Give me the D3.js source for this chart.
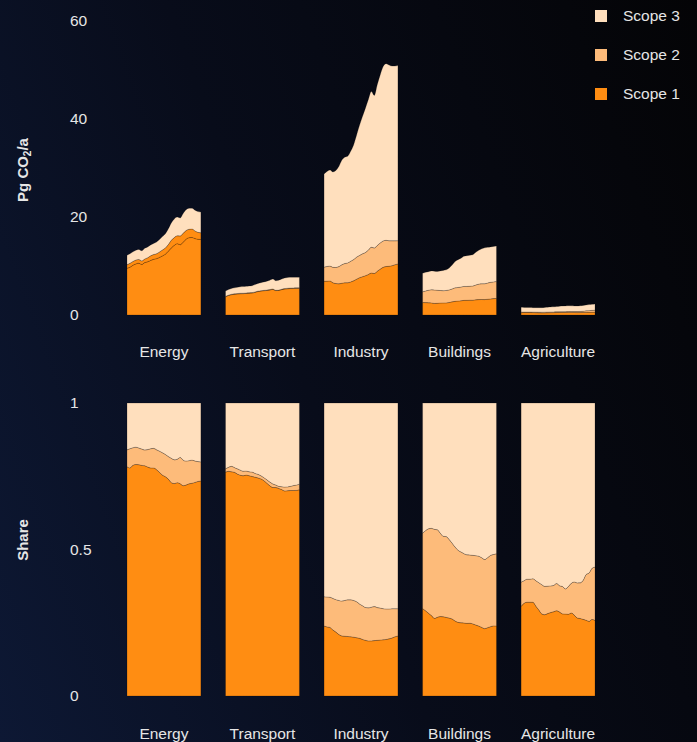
<!DOCTYPE html>
<html>
<head>
<meta charset="utf-8">
<script src="https://cdn.jsdelivr.net/npm/d3@7"></script>
<style>
  html, body { margin: 0; padding: 0; }
  body {
    width: 697px; height: 742px; overflow: hidden;
    background: linear-gradient(70deg, #0d1834 0%, #080c1a 45%, #040406 100%);
    font-family: "Liberation Sans", Arial, sans-serif;
  }
  text { fill: #e6e6e6; }
</style>
</head>
<body>
<svg id="chart" width="697" height="742"></svg>
<script>
// sectors + years
const sectors = ["Energy", "Transport", "Industry", "Buildings", "Agriculture"];
const years = [1995, 1996, 1997, 1998, 1999, 2000, 2001, 2002, 2003, 2004, 2005, 2006, 2007,
  2008, 2009, 2010, 2011, 2012, 2013, 2014, 2015, 2016, 2017, 2018, 2019, 2020];
const scopes = ["Scope 1", "Scope 2", "Scope 3"];
const topTicks = [0, 20, 40, 60];
const shareTicks = [0, 0.5, 1];

// Pg CO2 per year
const energyS1 = [9.55, 9.73, 10.15, 10.43, 10.57, 10.31, 10.69, 10.86, 11.13, 11.36, 11.50, 11.75, 12.06,
  12.42, 13.02, 13.69, 14.21, 14.56, 14.34, 14.86, 15.48, 15.78, 15.83, 15.60, 15.45, 15.41];
const energyS2 = [0.70, 0.82, 0.77, 0.78, 0.76, 0.73, 0.73, 0.83, 0.94, 0.98, 1.01, 1.12, 1.22,
  1.26, 1.36, 1.56, 1.59, 1.60, 1.78, 1.80, 1.76, 1.72, 1.72, 1.56, 1.43, 1.37];
const energyS3 = [1.95, 1.95, 1.97, 1.99, 2.06, 2.06, 2.18, 2.21, 2.23, 2.26, 2.38, 2.53, 2.72,
  2.92, 3.22, 3.55, 3.80, 3.84, 3.68, 4.04, 4.26, 4.29, 4.25, 4.24, 4.22, 4.22];

const transportS1 = [3.74, 3.98, 4.14, 4.23, 4.28, 4.34, 4.36, 4.41, 4.45, 4.48, 4.63, 4.80, 4.89,
  4.96, 5.01, 5.10, 5.23, 4.98, 5.03, 5.18, 5.29, 5.36, 5.40, 5.40, 5.41, 5.41];
const transportS2 = [0.06, 0.07, 0.10, 0.09, 0.10, 0.10, 0.09, 0.08, 0.08, 0.09, 0.08, 0.08, 0.07,
  0.07, 0.08, 0.09, 0.09, 0.06, 0.05, 0.07, 0.10, 0.10, 0.11, 0.13, 0.14, 0.15];
const transportS3 = [1.10, 1.14, 1.17, 1.22, 1.27, 1.32, 1.35, 1.36, 1.39, 1.41, 1.49, 1.57, 1.64,
  1.72, 1.81, 1.92, 2.03, 1.96, 2.02, 2.10, 2.17, 2.19, 2.19, 2.17, 2.16, 2.13];

const industryS1 = [6.88, 6.91, 6.93, 6.57, 6.43, 6.36, 6.48, 6.57, 6.58, 6.75, 6.97, 7.30, 7.62,
  7.82, 8.02, 8.27, 8.57, 8.47, 8.93, 9.36, 9.73, 9.90, 9.95, 10.06, 10.26, 10.43];
const industryS2 = [2.88, 2.99, 3.05, 3.15, 3.27, 3.52, 3.76, 3.93, 4.05, 4.21, 4.34, 4.51, 4.53,
  4.66, 4.73, 4.97, 5.25, 5.20, 5.26, 5.34, 5.38, 5.34, 5.20, 5.08, 4.88, 4.73];
const industryS3 = [19.04, 19.40, 19.62, 19.48, 19.79, 20.42, 21.36, 21.70, 21.77, 22.44, 23.39, 24.89, 26.55,
  28.02, 29.46, 30.76, 31.78, 31.14, 32.81, 34.30, 35.59, 36.06, 35.85, 35.66, 35.66, 35.74];

const buildingsS1 = [2.54, 2.53, 2.50, 2.47, 2.37, 2.39, 2.44, 2.46, 2.47, 2.55, 2.68, 2.79, 2.84,
  2.90, 2.99, 3.00, 3.03, 3.03, 3.10, 3.15, 3.16, 3.15, 3.22, 3.29, 3.35, 3.37];
const buildingsS2 = [2.18, 2.38, 2.55, 2.68, 2.72, 2.66, 2.56, 2.50, 2.54, 2.57, 2.64, 2.75, 2.78,
  2.80, 2.84, 2.83, 2.84, 2.88, 3.03, 3.15, 3.21, 3.23, 3.30, 3.38, 3.41, 3.47];
const buildingsS3 = [3.78, 3.79, 3.80, 3.85, 3.86, 3.85, 4.00, 4.14, 4.20, 4.47, 4.88, 5.36, 5.68,
  5.90, 6.17, 6.27, 6.33, 6.40, 6.67, 6.90, 7.13, 7.32, 7.29, 7.23, 7.24, 7.26];

const agricultureS1 = [0.48, 0.49, 0.49, 0.49, 0.48, 0.46, 0.44, 0.42, 0.43, 0.45, 0.47, 0.48, 0.50,
  0.51, 0.51, 0.52, 0.53, 0.53, 0.51, 0.49, 0.50, 0.51, 0.53, 0.54, 0.57, 0.58];
const agricultureS2 = [0.13, 0.12, 0.12, 0.12, 0.12, 0.13, 0.14, 0.15, 0.15, 0.15, 0.15, 0.15, 0.16,
  0.16, 0.17, 0.16, 0.18, 0.19, 0.21, 0.22, 0.23, 0.26, 0.32, 0.35, 0.38, 0.41];
const agricultureS3 = [0.96, 0.94, 0.92, 0.92, 0.90, 0.91, 0.92, 0.93, 0.97, 1.00, 1.03, 1.04, 1.06,
  1.11, 1.14, 1.18, 1.19, 1.15, 1.13, 1.13, 1.16, 1.18, 1.20, 1.23, 1.23, 1.26];

const seriesBySector = {
  Energy: [energyS1, energyS2, energyS3],
  Transport: [transportS1, transportS2, transportS3],
  Industry: [industryS1, industryS2, industryS3],
  Buildings: [buildingsS1, buildingsS2, buildingsS3],
  Agriculture: [agricultureS1, agricultureS2, agricultureS3]
};

const colors = ["#ff8d12", "#fdbb7a", "#ffdfbd"];
const fontSize = 15.5;

const svg = d3.select("#chart");

const xBand = d3.scaleBand().domain(sectors).range([127, 595]).paddingInner(0.25).paddingOuter(0);
const yTop = d3.scaleLinear().domain([0, 60]).range([315, 21]);
const yShare = d3.scaleLinear().domain([0, 1]).range([696, 403]);

const keys = ["s1", "s2", "s3"];
const stackAbs = d3.stack().keys(keys);
const stackShare = d3.stack().keys(keys).offset(d3.stackOffsetExpand);

function drawPanel(yScale, stacker, isTop) {
  sectors.forEach(sector => {
    const [a, b, c] = seriesBySector[sector];
    const rows = years.map((yr, i) => ({ year: yr, s1: a[i], s2: b[i], s3: c[i] }));
    const x = d3.scaleLinear()
      .domain(d3.extent(years))
      .range([xBand(sector), xBand(sector) + xBand.bandwidth()]);

    const area = d3.area()
      .x(d => x(d.data.year))
      .y0(d => yScale(d[0]))
      .y1(d => yScale(d[1]))
      .curve(d3.curveMonotoneX);

    svg.append("g")
      .selectAll("path")
      .data(stacker(rows))
      .join("path")
      .attr("d", area)
      .attr("fill", (d, i) => {
        // in the source, the energy scope 2 band on top is drawn in scope 1 orange
        if (isTop && sector === "Energy" && i === 1) return colors[0];
        return colors[i];
      })
      .attr("stroke", "#000")
      .attr("stroke-opacity", 0.25)
      .attr("stroke-width", 0.8);
  });

  // tick labels
  svg.append("g")
    .selectAll("text")
    .data(isTop ? topTicks : shareTicks)
    .join("text")
    .attr("x", 70)
    .attr("y", d => yScale(d))
    .attr("dy", "0.35em")
    .attr("font-size", fontSize)
    .text(d => d);

  // sector labels
  svg.append("g")
    .selectAll("text")
    .data(sectors)
    .join("text")
    .attr("x", d => xBand(d) + xBand.bandwidth() / 2)
    .attr("y", isTop ? 357 : 739)
    .attr("text-anchor", "middle")
    .attr("font-size", fontSize)
    .text(d => d);
}

drawPanel(yTop, stackAbs, true);
drawPanel(yShare, stackShare, false);

// axis titles
const t1 = svg.append("text")
  .attr("transform", "translate(28,170) rotate(-90)")
  .attr("text-anchor", "middle")
  .attr("font-size", 15)
  .attr("font-weight", "bold");
t1.append("tspan").text("Pg CO");
t1.append("tspan").attr("font-size", 10).attr("dy", 3).text("2");
t1.append("tspan").attr("dy", -3).text("/a");

svg.append("text")
  .attr("transform", "translate(28,540) rotate(-90)")
  .attr("text-anchor", "middle")
  .attr("font-size", 15)
  .attr("font-weight", "bold")
  .text("Share");

// legend, scope 3 first
const legend = svg.append("g")
  .selectAll("g")
  .data(scopes.map((s, i) => ({ name: s, color: colors[i] })).reverse())
  .join("g")
  .attr("transform", (d, i) => `translate(595,${10 + i * 39})`);

legend.append("rect")
  .attr("width", 12)
  .attr("height", 12)
  .attr("fill", d => d.color);

legend.append("text")
  .attr("x", 28)
  .attr("y", 6)
  .attr("dy", "0.35em")
  .attr("font-size", fontSize)
  .text(d => d.name);
</script>
</body>
</html>
